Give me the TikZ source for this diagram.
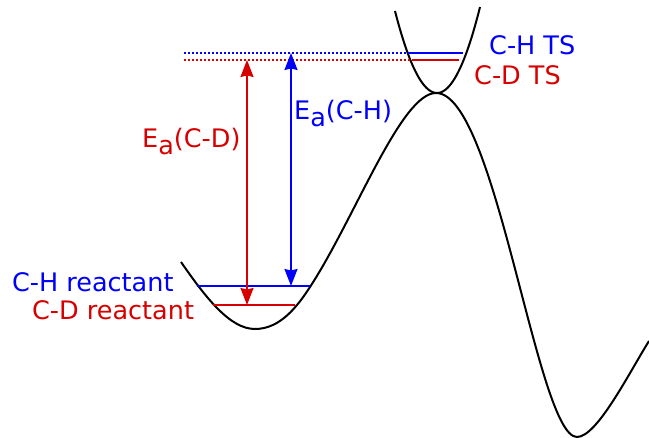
\documentclass[tikz,border=0pt]{standalone}
\usepackage{fontspec}
\setmainfont{DejaVu Sans}
\usetikzlibrary{arrows.meta}
\definecolor{myblue}{RGB}{0,0,250}
\definecolor{myred}{RGB}{215,0,0}
\begin{document}
\begin{tikzpicture}[x=1pt,y=-1pt,
  lbl/.style={inner sep=0pt, anchor=base west, font=\fontsize{25.5}{30}\selectfont},
  pes/.style={line width=2pt, black},
  lvl/.style={line width=2.2pt},
  dotline/.style={line width=1.6pt, dash pattern=on 1.6pt off 2.4pt},
  ea/.style={line width=1.6pt, {Stealth[length=17pt,width=13pt,inset=1.5pt]}-{Stealth[length=17pt,width=13pt,inset=1.5pt]}}]
\useasboundingbox (0,0) rectangle (649,438);
\newcommand{\Ea}{E\raisebox{-0.27em}{a}}
% potential energy surface
\coordinate (p0) at (181,262);
\coordinate (wellmin) at (255,329);
\coordinate (p1) at (310,287);
\coordinate (peak) at (436,93);
\coordinate (prodmin) at (577,437);
\coordinate (pend) at (649,341);
\draw[pes] (p0) .. controls (206,298) and (230,329) .. (wellmin)
  .. controls (280,329) and (297,307) .. (p1)
  .. controls (355,218) and (401,93) .. (peak)
  .. controls (496,93) and (537,437) .. (prodmin)
  .. controls (597,437) and (629,373) .. (pend);
% transition-state well
\draw[pes] plot[domain=395:480, samples=60, smooth] (\x,{93-0.0465*(\x-437)*(\x-437)});
% levels
\coordinate (rHl) at (197,286); \coordinate (rHr) at (310,286);
\coordinate (rDl) at (213,305); \coordinate (rDr) at (295,305);
\coordinate (tHl) at (409,53); \coordinate (tHr) at (463,53);
\coordinate (tDl) at (412,60); \coordinate (tDr) at (459,60);
\coordinate (dHl) at (184,53); \coordinate (dDl) at (184,60);
\draw[lvl, myblue] (rHl) -- (rHr);
\draw[lvl, myred] (rDl) -- (rDr);
\draw[lvl, myblue] (tHl) -- (tHr);
\draw[lvl, myred] (tDl) -- (tDr);
\draw[dotline, myblue] (dHl) -- (tHl);
\draw[dotline, myred] (dDl) -- (tDl);
% activation energy arrows
\coordinate (aDt) at (247,60); \coordinate (aDb) at (247,305);
\coordinate (aHt) at (291,53); \coordinate (aHb) at (291,286);
\draw[ea, myred] (aDt) -- (aDb);
\draw[ea, myblue] (aHt) -- (aHb);
% labels
\node[lbl, myblue] (lrH) at (12,292) {C-H reactant};
\node[lbl, myred] (lrD) at (32,320) {C-D reactant};
\node[lbl, myblue] (ltH) at (489,55) {C-H TS};
\node[lbl, myred] (ltD) at (474,85) {C-D TS};
\node[lbl, myblue] (leH) at (294,120) {\Ea(C-H)};
\node[lbl, myred] (leD) at (142,148) {\Ea(C-D)};
\end{tikzpicture}
\end{document}
